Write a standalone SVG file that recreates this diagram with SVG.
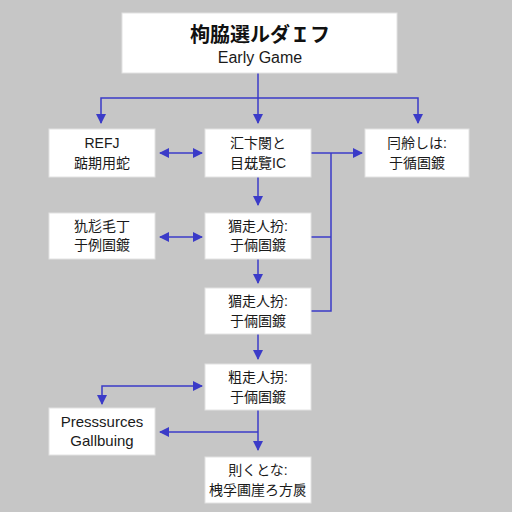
<svg xmlns="http://www.w3.org/2000/svg" width="512" height="512" viewBox="0 0 512 512">
<style>
.box{fill:#ffffff;stroke:#e2e2e2;stroke-width:1}
.t{font-family:"Liberation Sans","Noto Sans CJK JP",sans-serif;font-size:14px;fill:#1a1a1a;text-anchor:middle}
.title{font-family:"Liberation Sans","Noto Sans CJK JP",sans-serif;font-size:20px;font-weight:bold;fill:#111;text-anchor:middle}
.sub{font-family:"Liberation Sans",sans-serif;font-size:16px;fill:#1a1a1a;text-anchor:middle}
.en{font-family:"Liberation Sans",sans-serif;font-size:15px;fill:#1a1a1a;text-anchor:middle}
.c{fill:none;stroke:#3b3bc8;stroke-width:1.5}
</style>
<defs>
<marker id="ah" viewBox="0 0 10 10" refX="9" refY="5" markerWidth="8" markerHeight="8" markerUnits="userSpaceOnUse" orient="auto-start-reverse">
<path d="M0,0 L10,5 L0,10 z" fill="#3b3bc8"/>
</marker>
<marker id="ahb" viewBox="0 0 10 10" refX="9" refY="5" markerWidth="10" markerHeight="10" markerUnits="userSpaceOnUse" orient="auto-start-reverse">
<path d="M0,0 L10,5 L0,10 z" fill="#3b3bc8"/>
</marker>
</defs>
<rect width="512" height="512" fill="#c6c6c6"/>

<g id="connectors">
<path class="c" d="M258,73 V98"/>
<path class="c" d="M101,123 V98 H418 V123" marker-start="url(#ahb)" marker-end="url(#ahb)"/>
<path class="c" d="M258,98 V123" marker-end="url(#ahb)"/>
<path class="c" d="M160,153 H202" marker-start="url(#ahb)" marker-end="url(#ahb)"/>
<path class="c" d="M311,153 H362" marker-end="url(#ahb)"/>
<path class="c" d="M331,153 V311 H311"/>
<path class="c" d="M311,237 H331"/>
<path class="c" d="M258,177 V205" marker-end="url(#ahb)"/>
<path class="c" d="M160,237 H202" marker-start="url(#ahb)" marker-end="url(#ahb)"/>
<path class="c" d="M258,259 V283" marker-end="url(#ahb)"/>
<path class="c" d="M258,334 V359" marker-end="url(#ahb)"/>
<path class="c" d="M102,404 V386 H202" marker-start="url(#ahb)" marker-end="url(#ahb)"/>
<path class="c" d="M258,410 V450" marker-end="url(#ahb)"/>
<path class="c" d="M258,432 H160" marker-end="url(#ahb)"/>
</g>

<g id="title">
<rect class="box" x="122" y="13" width="275" height="60"/>
<text class="title" x="260" y="42">栒脇選ルダＩフ</text>
<text class="sub" x="260" y="63">Early Game</text>
</g>

<g id="n1">
<rect class="box" x="49" y="129" width="106" height="48"/>
<text class="t" x="102" y="148">REFJ</text>
<text class="t" x="102" y="168">踮期用蛇</text>
</g>
<g id="n2">
<rect class="box" x="205" y="129" width="106" height="48"/>
<text class="t" x="258" y="148">汇卞閿と</text>
<text class="t" x="258" y="168">目兓覽IC</text>
</g>
<g id="n3">
<rect class="box" x="365" y="129" width="104" height="48"/>
<text class="t" x="417" y="148">冃舲しは:</text>
<text class="t" x="417" y="168">于循圄鍍</text>
</g>
<g id="n4">
<rect class="box" x="49" y="213" width="106" height="46"/>
<text class="t" x="102" y="231">犰尨毛丁</text>
<text class="t" x="102" y="250">于例圄鍍</text>
</g>
<g id="n5">
<rect class="box" x="205" y="213" width="106" height="46"/>
<text class="t" x="258" y="231">猸走人扮:</text>
<text class="t" x="258" y="250">于倆圄鍍</text>
</g>
<g id="n6">
<rect class="box" x="205" y="288" width="106" height="46"/>
<text class="t" x="258" y="306">猸走人扮:</text>
<text class="t" x="258" y="326">于倆圄鍍</text>
</g>
<g id="n7">
<rect class="box" x="205" y="364" width="106" height="46"/>
<text class="t" x="258" y="382">粗走人拐:</text>
<text class="t" x="258" y="402">于倆圄鍍</text>
</g>
<g id="n8">
<rect class="box" x="49" y="408" width="106" height="47"/>
<text class="en" x="102" y="427">Presssurces</text>
<text class="en" x="102" y="446">Gallbuing</text>
</g>
<g id="n9">
<rect class="box" x="205" y="457" width="106" height="46"/>
<text class="t" x="258" y="475">則くとな:</text>
<text class="t" x="258" y="495">栧孚圃崖ろ方扊</text>
</g>
</svg>
